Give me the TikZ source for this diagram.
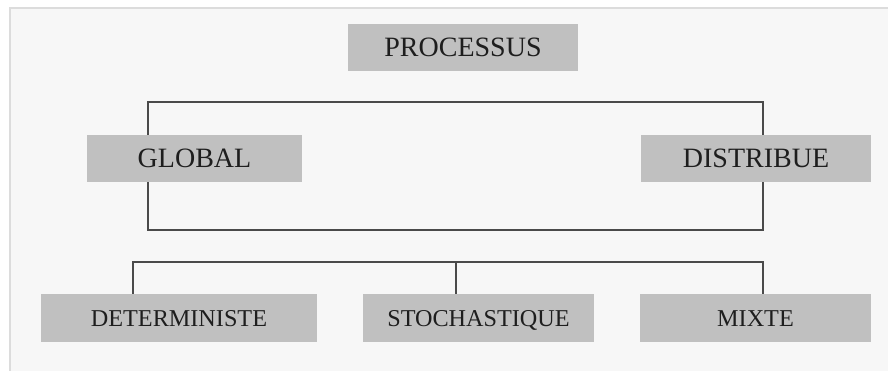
\documentclass[tikz,border=0pt]{standalone}
\usepackage{fontspec}
\setmainfont{Liberation Serif}
\definecolor{panel}{HTML}{F7F7F7}
\definecolor{panelborder}{HTML}{DCDCDC}
\definecolor{boxfill}{HTML}{C0C0C0}
\definecolor{linecol}{HTML}{4A4A4A}
\definecolor{textcol}{HTML}{1E1E1E}
\tikzset{
  bigbox/.style={fill=boxfill, draw=none, inner sep=0pt, minimum height=47pt, text=textcol, font=\fontsize{28}{30}\selectfont, text height=18.5pt, text depth=0pt},
  smallbox/.style={fill=boxfill, draw=none, inner sep=0pt, minimum height=48pt, text=textcol, font=\fontsize{24.2}{26}\selectfont, text height=16pt, text depth=0pt},
  conn/.style={draw=linecol, line width=1.5pt}
}
\begin{document}
\begin{tikzpicture}[x=1pt,y=-1pt]
\useasboundingbox (0,0) rectangle (888,371);
\fill[white] (0,0) rectangle (888,371);
\fill[panel] (10,8) rectangle (888,371);
\draw[panelborder, line width=1.2pt] (10,371) -- (10,8) -- (888,8);

\node[bigbox, minimum width=230pt] (p) at (463,47.5) {PROCESSUS};
\node[bigbox, minimum width=215pt] (g) at (194.5,158.5) {GLOBAL};
\node[bigbox, minimum width=230pt] (d) at (756,158.5) {DISTRIBUE};
\node[smallbox, minimum width=276pt] (det) at (179,318) {DETERMINISTE};
\node[smallbox, minimum width=231pt] (sto) at (478.5,318) {STOCHASTIQUE};
\node[smallbox, minimum width=231pt] (mix) at (755.5,318) {MIXTE};

\coordinate (gx) at (148,0);
\coordinate (dx) at (763,0);
\coordinate (top) at (0,102);
\coordinate (bot) at (0,230);
\coordinate (detx) at (133,0);
\coordinate (stox) at (456,0);
\coordinate (mixx) at (763,0);
\coordinate (bar) at (0,262);

\draw[conn] (gx |- g.north) -- (gx |- top) -- (dx |- top) -- (dx |- d.north);
\draw[conn] (gx |- g.south) -- (gx |- bot) -- (dx |- bot) -- (dx |- d.south);
\draw[conn] (detx |- det.north) -- (detx |- bar) -- (mixx |- bar) -- (mixx |- mix.north);
\draw[conn] (stox |- bar) -- (stox |- sto.north);
\end{tikzpicture}
\end{document}
